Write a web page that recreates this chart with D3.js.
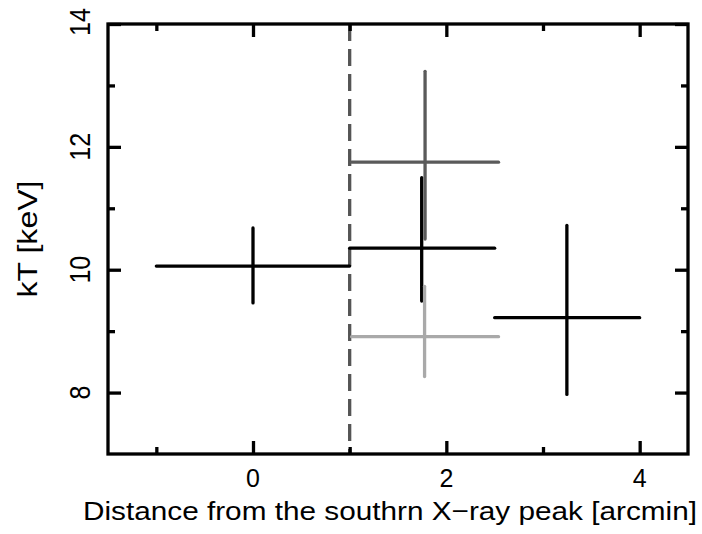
<!DOCTYPE html>
<html>
<head>
<meta charset="utf-8">
<script src="https://cdn.jsdelivr.net/npm/d3@7"></script>
<style>
  body { margin: 0; background: #fff; }
  svg text { font-family: "Liberation Sans", Arial, sans-serif; fill: #000; }
</style>
</head>
<body>
<svg id="chart" width="702" height="534"></svg>
<script>
// temperature profile values
var xCenter = [0, 1.745, 1.78, 1.775, 3.247];
var xLow    = [-1, 1.0, 1.02, 1.02, 2.5];
var xHigh   = [1, 2.5, 2.54, 2.54, 4.0];
var kT      = [10.06, 10.35, 11.75, 8.91, 9.22];
var kTLow   = [9.46, 9.49, 10.50, 8.26, 7.97];
var kTHigh  = [10.68, 11.50, 13.23, 9.73, 10.72];
var shades  = ['#000', '#000', '#5a5a5a', '#a9a9a9', '#000'];

var xMajor = [0, 2, 4], xMinor = [-1, 1, 3];
var yMajor = [8, 10, 12, 14], yMinor = [9, 11, 13];
var boundary = 1;

var margin = {top: 24, right: 14, bottom: 80, left: 108},
    width = 702 - margin.left - margin.right,
    height = 534 - margin.top - margin.bottom;

var lw = 3.3;

var svg = d3.select('#chart');
var g = svg.append('g').attr('transform', 'translate(' + margin.left + ',' + margin.top + ')');

var x = d3.scaleLinear().domain([-1.5, 4.5]).range([0, width]);
var y = d3.scaleLinear().domain([7, 14]).range([height, 0]);

var points = xCenter.map(function(d, i) {
  return {x: d, x0: xLow[i], x1: xHigh[i], y: kT[i], y0: kTLow[i], y1: kTHigh[i], c: shades[i]};
});

// dashed boundary
g.append('line')
  .attr('x1', x(boundary)).attr('x2', x(boundary))
  .attr('y1', 0).attr('y2', height)
  .attr('stroke', '#555').attr('stroke-width', lw)
  .attr('stroke-dasharray', '17,8');

// error bars
var pts = g.selectAll('.pt').data(points).enter().append('g')
  .attr('stroke', d => d.c).attr('stroke-width', lw).attr('stroke-linecap', 'round');
pts.append('line')
  .attr('x1', d => x(d.x0)).attr('x2', d => x(d.x1))
  .attr('y1', d => y(d.y)).attr('y2', d => y(d.y));
pts.append('line')
  .attr('x1', d => x(d.x)).attr('x2', d => x(d.x))
  .attr('y1', d => y(d.y0)).attr('y2', d => y(d.y1));

// axes, ticks inward on all sides
function ticks(axis, vals, len) {
  axis.tickValues(vals).tickSize(len).tickFormat('');
  return axis;
}
function styleAxis(sel) {
  sel.select('.domain').remove();
  sel.selectAll('.tick line').attr('stroke', '#000').attr('stroke-width', lw);
}
g.append('g').attr('transform', 'translate(0,' + height + ')').call(ticks(d3.axisTop(x), xMajor, 13)).call(styleAxis);
g.append('g').attr('transform', 'translate(0,' + height + ')').call(ticks(d3.axisTop(x), xMinor, 7)).call(styleAxis);
g.append('g').call(ticks(d3.axisBottom(x), xMajor, 13)).call(styleAxis);
g.append('g').call(ticks(d3.axisBottom(x), xMinor, 7)).call(styleAxis);
g.append('g').call(ticks(d3.axisRight(y), yMajor, 13)).call(styleAxis);
g.append('g').call(ticks(d3.axisRight(y), yMinor, 7)).call(styleAxis);
g.append('g').attr('transform', 'translate(' + width + ',0)').call(ticks(d3.axisLeft(y), yMajor, 13)).call(styleAxis);
g.append('g').attr('transform', 'translate(' + width + ',0)').call(ticks(d3.axisLeft(y), yMinor, 7)).call(styleAxis);

// frame
g.append('rect')
  .attr('width', width).attr('height', height)
  .attr('fill', 'none').attr('stroke', '#000').attr('stroke-width', lw);

// tick labels
g.selectAll('.xl').data(xMajor).enter().append('text')
  .attr('x', d => x(d)).attr('y', height + 33)
  .attr('text-anchor', 'middle').attr('font-size', 25)
  .text(d => d);
g.selectAll('.yl').data(yMajor).enter().append('text')
  .attr('transform', d => 'translate(-18,' + (d === 14 ? y(d) - 2 : y(d)) + ') rotate(-90) scale(1,1.2)')
  .attr('text-anchor', 'middle').attr('font-size', 25)
  .text(d => d);

// axis titles
svg.append('text')
  .attr('x', 390).attr('y', 520)
  .attr('text-anchor', 'middle').attr('font-size', 26)
  .attr('textLength', 614).attr('lengthAdjust', 'spacingAndGlyphs')
  .text('Distance from the southrn X\u2212ray peak [arcmin]');
svg.append('text')
  .attr('transform', 'translate(37,' + (margin.top + height / 2) + ') rotate(-90) scale(1,1.05)')
  .attr('text-anchor', 'middle').attr('font-size', 27)
  .attr('textLength', 117).attr('lengthAdjust', 'spacingAndGlyphs')
  .text('kT [keV]');
</script>
</body>
</html>
